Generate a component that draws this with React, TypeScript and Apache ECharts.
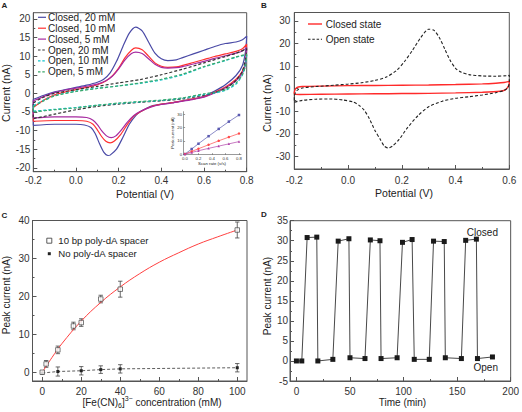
import React, { useEffect, useRef } from "react";
import * as echarts from "echarts";

const FONT = "'Liberation Sans', Arial, Helvetica, sans-serif";

// ---------- Panel A: CV loops (potential V, current nA), forward then reverse scan ----------
const closed20: number[][] = [
  [-0.2, -1.6], [-0.15, -0.5], [-0.1, 0.4], [-0.05, 1.0], [0, 1.6], [0.05, 2.2], [0.1, 3.0], [0.13, 3.8],
  [0.16, 5.5], [0.19, 8.6], [0.22, 12.6], [0.25, 16.2], [0.28, 17.8], [0.31, 16.8], [0.34, 13.8],
  [0.37, 10.8], [0.4, 9.3], [0.43, 8.8], [0.47, 9.0], [0.5, 9.6], [0.55, 10.6], [0.6, 11.6], [0.65, 12.6],
  [0.7, 13.4], [0.75, 13.8], [0.78, 14.4], [0.8, 15.4],
  [0.795, 11.5], [0.78, 7.5], [0.75, 4.8], [0.7, 2.3], [0.65, 0.6], [0.6, -0.8], [0.55, -1.5], [0.5, -2.0],
  [0.45, -2.5], [0.4, -2.9], [0.35, -3.5], [0.3, -5.0], [0.28, -6.0], [0.25, -8.3], [0.22, -11.8],
  [0.19, -15.0], [0.16, -16.6], [0.15, -16.7], [0.13, -15.8], [0.11, -13.5], [0.09, -10.8], [0.07, -9.2],
  [0.04, -8.5], [0, -8.3], [-0.1, -8.3], [-0.2, -8.6], [-0.2, -1.6],
];
const closed10: number[][] = [
  [-0.2, -3.8], [-0.15, -1.8], [-0.1, -0.4], [-0.05, 0.4], [0, 1.0], [0.05, 1.6], [0.1, 2.3], [0.14, 3.3],
  [0.17, 4.7], [0.2, 6.8], [0.23, 9.6], [0.26, 11.6], [0.28, 12.2], [0.31, 11.7], [0.34, 10.0], [0.37, 8.2],
  [0.4, 7.3], [0.43, 7.0], [0.47, 7.1], [0.5, 7.5], [0.55, 8.3], [0.6, 9.1], [0.65, 9.9], [0.7, 10.6],
  [0.75, 11.3], [0.78, 12.0], [0.8, 13.2],
  [0.795, 8.5], [0.78, 6.0], [0.75, 3.8], [0.7, 1.7], [0.65, 0.3], [0.6, -0.9], [0.55, -1.5], [0.5, -2.0],
  [0.45, -2.5], [0.4, -2.9], [0.35, -3.6], [0.3, -5.0], [0.27, -6.2], [0.24, -8.4], [0.21, -11.0],
  [0.18, -12.8], [0.16, -13.3], [0.14, -12.9], [0.12, -11.6], [0.1, -9.8], [0.08, -8.3], [0.05, -7.5],
  [0, -7.3], [-0.1, -7.3], [-0.2, -7.5], [-0.2, -3.8],
];
const closed5: number[][] = [
  [-0.2, -2.0], [-0.15, -0.8], [-0.1, 0.2], [-0.05, 0.9], [0, 1.4], [0.05, 1.9], [0.1, 2.5], [0.14, 3.4],
  [0.17, 4.6], [0.2, 6.6], [0.23, 9.0], [0.26, 10.7], [0.28, 11.1], [0.31, 10.7], [0.34, 9.3], [0.37, 7.8],
  [0.4, 7.0], [0.43, 6.8], [0.47, 6.9], [0.5, 7.2], [0.55, 7.9], [0.6, 8.6], [0.65, 9.4], [0.7, 10.1],
  [0.75, 10.8], [0.78, 11.4], [0.8, 12.3],
  [0.795, 8.0], [0.78, 5.5], [0.75, 3.4], [0.7, 1.5], [0.65, 0.1], [0.6, -1.0], [0.55, -1.6], [0.5, -2.1],
  [0.45, -2.6], [0.4, -3.0], [0.35, -3.7], [0.3, -4.9], [0.27, -6.0], [0.24, -7.8], [0.21, -10.0],
  [0.185, -11.5], [0.165, -11.9], [0.145, -11.5], [0.12, -10.0], [0.1, -8.4], [0.08, -7.2], [0.05, -6.5],
  [0, -6.3], [-0.1, -6.3], [-0.2, -6.6], [-0.2, -2.0],
];
const open20: number[][] = [
  [-0.2, -2.5], [-0.15, -1.0], [-0.1, 0.0], [0, 1.0], [0.1, 1.9], [0.2, 2.8], [0.3, 3.7], [0.4, 5.0],
  [0.5, 6.5], [0.6, 8.2], [0.7, 9.9], [0.75, 10.8], [0.8, 12.0],
  [0.795, 9.5], [0.78, 6.0], [0.75, 3.5], [0.7, 1.3], [0.65, 0.2], [0.6, -0.5], [0.5, -1.5], [0.4, -2.0],
  [0.3, -2.4], [0.2, -2.9], [0.1, -3.5], [0, -4.4], [-0.1, -5.6], [-0.2, -6.8], [-0.2, -2.5],
];
const open10: number[][] = [
  [-0.2, -3.3], [-0.15, -1.8], [-0.1, -0.6], [0, 0.6], [0.1, 1.4], [0.2, 2.0], [0.3, 2.7], [0.4, 3.6],
  [0.5, 5.0], [0.6, 7.1], [0.7, 8.8], [0.75, 9.7], [0.8, 10.3],
  [0.795, 8.0], [0.78, 5.0], [0.75, 2.5], [0.7, 0.8], [0.65, 0.1], [0.6, -0.3], [0.5, -1.3], [0.4, -1.9],
  [0.3, -2.3], [0.2, -2.7], [0.1, -3.2], [0, -3.8], [-0.1, -4.3], [-0.2, -4.8], [-0.2, -3.3],
];
const open5: number[][] = [
  [-0.2, -3.6], [-0.15, -2.0], [-0.1, -0.7], [0, 0.5], [0.1, 1.3], [0.2, 2.0], [0.3, 2.8], [0.4, 3.8],
  [0.5, 5.2], [0.6, 7.2], [0.7, 8.9], [0.75, 9.8], [0.8, 10.5],
  [0.795, 7.5], [0.78, 5.0], [0.75, 2.8], [0.7, 1.0], [0.65, 0.3], [0.6, -0.1], [0.5, -1.2], [0.4, -1.8],
  [0.3, -2.2], [0.2, -2.6], [0.1, -3.2], [0, -3.9], [-0.1, -4.4], [-0.2, -5.0], [-0.2, -3.6],
];

// Inset of panel A: peak current vs scan rate
const insetScanRate = [0, 0.1, 0.2, 0.35, 0.5, 0.65, 0.8];
const insetBlue = [0, 3.8, 7.8, 13.5, 19.0, 24.5, 29.5];
const insetRed = [0, 2.0, 4.0, 7.0, 10.0, 12.8, 15.5];
const insetPurple = [0, 1.2, 2.5, 4.3, 6.0, 7.7, 9.4];

// ---------- Panel B ----------
const closedState: number[][] = [
  [-0.2, -1.5], [-0.195, 0.0], [-0.185, 0.7], [-0.17, 0.9], [-0.1, 1.1], [0, 1.3], [0.1, 1.4], [0.2, 1.5],
  [0.3, 1.6], [0.4, 1.8], [0.5, 2.1], [0.55, 2.4], [0.58, 2.7], [0.6, 3.2],
  [0.6, 2.2], [0.595, 0.8], [0.585, -0.6], [0.565, -1.2], [0.5, -1.6], [0.4, -1.9], [0.3, -2.1],
  [0.2, -2.2], [0.1, -2.3], [0, -2.4], [-0.1, -2.5], [-0.18, -2.6], [-0.2, -2.5], [-0.2, -1.5],
];
const openState: number[][] = [
  [-0.2, -3.0], [-0.19, -0.8], [-0.17, 0.3], [-0.12, 0.9], [-0.05, 1.5], [0, 2.0], [0.05, 2.6], [0.1, 3.6],
  [0.14, 5.0], [0.18, 8.0], [0.21, 12.0], [0.24, 17.0], [0.27, 22.5], [0.3, 26.3], [0.32, 25.8],
  [0.34, 22.5], [0.36, 17.5], [0.38, 12.5], [0.4, 9.0], [0.42, 7.3], [0.45, 6.2], [0.5, 5.6], [0.55, 5.5],
  [0.59, 5.7], [0.6, 5.9],
  [0.6, 3.0], [0.595, 0.5], [0.58, -0.8], [0.55, -1.8], [0.5, -2.8], [0.45, -3.6], [0.4, -4.3], [0.35, -5.6],
  [0.3, -8.0], [0.26, -12.0], [0.22, -17.5], [0.19, -22.5], [0.165, -25.5], [0.15, -26.3], [0.135, -25.5],
  [0.12, -22.5], [0.1, -18.5], [0.08, -13.5], [0.06, -9.5], [0.04, -7.3], [0.02, -6.0], [-0.02, -5.0],
  [-0.07, -4.6], [-0.12, -4.7], [-0.17, -5.2], [-0.2, -6.0], [-0.2, -3.0],
];

// ---------- Panel C ----------
const spacerConc = [0, 2, 8, 16, 20, 30, 40, 100];
const spacerPeak = [0, 2.2, 5.9, 12.2, 13.1, 19.3, 21.9, 37.5];
const spacerErr = [0, 0.9, 1.0, 1.0, 1.0, 1.0, 2.1, 2.1];
const noSpacerConc = [0, 8, 20, 30, 40, 100];
const noSpacerPeak = [-0.2, 0.2, 0.4, 0.7, 0.9, 1.2];
const noSpacerErr = [0, 1.2, 1.1, 1.0, 1.1, 1.1];
const fitConc = [0, 5, 10, 20, 30, 40, 50, 60, 70, 80, 90, 100];
const fitPeak = [0, 3.9, 7.5, 13.5, 18.4, 22.5, 26.0, 29.0, 31.5, 33.8, 35.7, 37.5];

// ---------- Panel D ----------
const dTime = [0, 5, 10, 19, 20, 34, 39, 49, 50, 64, 69, 78, 79, 94, 99, 108, 110, 124, 128, 138, 139, 154, 158, 168, 169, 183];
const dCurrent = [0, 0, 30.8, 30.9, 0, 0.4, 29.9, 30.5, 0.8, 0.6, 30.2, 30.0, 0.6, 0.8, 29.6, 30.3, 0.4, 0.4, 29.9, 29.8, 0.8, 0.6, 30.1, 30.4, 0.6, 1.0];

// Tick labels
const aXTicks = [-0.2, 0, 0.2, 0.4, 0.6, 0.8];
const aYTicks = [-20, -15, -10, -5, 0, 5, 10, 15, 20];
const bXTicks = [-0.2, 0, 0.2, 0.4, 0.6];
const bYTicks = [-30, -20, -10, 0, 10, 20, 30];
const cXTicks = [0, 20, 40, 60, 80, 100];
const cYTicks = [0, 10, 20, 30, 40];
const dXTicks = [0, 50, 100, 150, 200];
const dYTicks = [-5, 0, 5, 10, 15, 20, 25, 30, 35];
const insetXTicks = [0, 0.2, 0.4, 0.6, 0.8];
const insetYTicks = [0, 10, 20, 30];

// Legends
const legendA = ["Closed, 20 mM", "Closed, 10 mM", "Closed, 5 mM", "Open, 20 mM", "Open, 10 mM", "Open, 5 mM"];
const legendB = ["Closed state", "Open state"];

const AX = "#555";

function mk(g: number, pos: string, min: number, max: number, major: number[], minor: number[],
  fmt: (v: number) => string, fs: number, margin: number, tickLen = 4, lw = 1) {
  const base: any = {
    type: "value", gridIndex: g, min, max, position: pos,
    splitLine: { show: false },
  };
  return [
    {
      ...base,
      axisLine: { show: true, onZero: false, lineStyle: { color: AX, width: lw } },
      axisTick: { show: true, inside: true, length: tickLen, customValues: major, lineStyle: { color: AX, width: lw } },
      axisLabel: { show: true, customValues: major, formatter: fmt, fontSize: fs, color: "#333", margin, fontFamily: FONT },
    },
    {
      ...base,
      axisLine: { show: false, onZero: false },
      axisTick: { show: minor.length > 0, inside: true, length: tickLen / 2, customValues: minor.length ? minor : undefined, lineStyle: { color: AX, width: lw } },
      axisLabel: { show: false },
    },
  ];
}

const f1 = (v: number) => v.toFixed(1);
const f0 = (v: number) => String(v);

function errRender(params: any, api: any) {
  const x = api.value(0), lo = api.value(1), hi = api.value(2);
  const a = api.coord([x, lo]);
  const b = api.coord([x, hi]);
  const w = 2.2;
  const st = { stroke: "#444", lineWidth: 0.8 };
  return {
    type: "group",
    children: [
      { type: "line", shape: { x1: a[0], y1: a[1], x2: b[0], y2: b[1] }, style: st },
      { type: "line", shape: { x1: a[0] - w, y1: a[1], x2: a[0] + w, y2: a[1] }, style: st },
      { type: "line", shape: { x1: b[0] - w, y1: b[1], x2: b[0] + w, y2: b[1] }, style: st },
    ],
  };
}

function txt(x: number, y: number, text: string, fontSize: number, opts: any = {}) {
  return {
    type: "text", x, y, rotation: opts.rotation || 0, silent: true,
    style: {
      text, fill: opts.fill || "#222", fontSize, fontFamily: FONT, fontWeight: opts.bold ? "bold" : "normal",
      textAlign: opts.align || "center", textVerticalAlign: "middle",
    },
  };
}

function legendLine(x1: number, x2: number, y: number, color: string, dashed: boolean, width: number) {
  return {
    type: "line", silent: true, shape: { x1, y1: y, x2, y2: y },
    style: { stroke: color, lineWidth: width, lineDash: dashed ? [2.5, 1.8] : null },
  };
}

const colA = ["#4a4aa6", "#ff3030", "#a62aa0", "#333333", "#14c4cc", "#3aa86a"];
const dashA = [false, false, false, true, true, true];

export default function App() {
  const ref = useRef<HTMLDivElement>(null);
  useEffect(() => {
    if (!ref.current) return;
    const chart = echarts.init(ref.current, undefined, { renderer: "svg" });

    const xAxis = [
      ...mk(0, "bottom", -0.2, 0.8, aXTicks, [-0.1, 0.1, 0.3, 0.5, 0.7], f1, 10, 4),
      ...mk(1, "bottom", -0.2, 0.6, bXTicks, [-0.1, 0.1, 0.3, 0.5], f1, 10, 6),
      ...mk(2, "bottom", -5, 105, cXTicks, [10, 30, 50, 70, 90], f0, 10, 5),
      ...mk(3, "bottom", -6, 200, dXTicks, [25, 75, 125, 175], f0, 10, 5),
      ...mk(4, "bottom", -0.02, 0.83, insetXTicks, [], f1, 4.3, 1.5, 1.5, 0.6),
    ];
    const yAxis = [
      ...mk(0, "left", -21.06, 21.68, aYTicks, [-17.5, -12.5, -7.5, -2.5, 2.5, 7.5, 12.5, 17.5], f0, 10, 3),
      ...mk(1, "left", -35.6, 33.7, bYTicks, [-25, -15, -5, 5, 15, 25], f0, 10, 4),
      ...mk(2, "left", -2.3, 40, cYTicks, [5, 15, 25, 35], f0, 10, 3),
      ...mk(3, "left", -5, 35, dYTicks, [-2.5, 2.5, 7.5, 12.5, 17.5, 22.5, 27.5, 32.5], f0, 10, 2),
      ...mk(4, "left", -0.5, 32, insetYTicks, [], f0, 4.3, 1.5, 1.5, 0.6),
    ];

    const cvData = [closed20, closed10, closed5, open20, open10, open5];
    const cvSeries = cvData.map((data, i) => ({
      type: "line", name: legendA[i], data, xAxisIndex: 0, yAxisIndex: 0, symbol: "none", smooth: 0.25,
      lineStyle: { color: colA[i], width: 1.2, type: dashA[i] ? [3, 2] : "solid" }, itemStyle: { color: colA[i] }, silent: true,
    }));
    const insetLine = (data: number[], color: string, symbol: string) => ({
      type: "line", data: insetScanRate.map((x, i) => [x, data[i]]), xAxisIndex: 8, yAxisIndex: 8,
      symbol, symbolSize: 2.5, lineStyle: { color, width: 0.7 }, itemStyle: { color }, silent: true,
    });

    const legendGraphics: any[] = [];
    legendA.forEach((name, i) => {
      const y = 17.3 + i * 10.9;
      legendGraphics.push(legendLine(38, 46, y, colA[i], dashA[i], 1.2));
      legendGraphics.push(txt(48, y, name, 10, { align: "left" }));
    });
    legendGraphics.push(legendLine(308, 322, 24, "#ff2a2a", false, 1.4));
    legendGraphics.push(txt(325.7, 24, legendB[0], 10, { align: "left" }));
    legendGraphics.push(legendLine(308, 322, 39.3, "#222", true, 1.1));
    legendGraphics.push(txt(325.7, 39.3, legendB[1], 10, { align: "left" }));

    const option: any = {
      animation: false,
      backgroundColor: "#fff",
      textStyle: { fontFamily: FONT },
      grid: [
        { left: 33.3, top: 12.7, width: 213.4, height: 159, show: true, borderColor: AX, borderWidth: 1 },
        { left: 294.3, top: 12.5, width: 215, height: 156.5, show: true, borderColor: AX, borderWidth: 1 },
        { left: 32.5, top: 220.5, width: 214.5, height: 160.5, show: true, borderColor: AX, borderWidth: 1 },
        { left: 290, top: 220.7, width: 222, height: 160.3, show: true, borderColor: AX, borderWidth: 1 },
        { left: 183.6, top: 111.7, width: 57.4, height: 43, show: false },
      ],
      xAxis,
      yAxis,
      series: [
        ...cvSeries,
        insetLine(insetBlue, "#5a5ab0", "rect"),
        insetLine(insetRed, "#ff4a4a", "circle"),
        insetLine(insetPurple, "#b040a8", "triangle"),
        {
          type: "line", name: legendB[0], data: closedState, xAxisIndex: 2, yAxisIndex: 2, symbol: "none",
          smooth: 0.25, lineStyle: { color: "#ff2a2a", width: 1.4 }, itemStyle: { color: "#ff2a2a" }, silent: true,
        },
        {
          type: "line", name: legendB[1], data: openState, xAxisIndex: 2, yAxisIndex: 2, symbol: "none",
          smooth: 0.25, lineStyle: { color: "#222", width: 1.1, type: [3, 2] }, itemStyle: { color: "#222" }, silent: true,
        },
        {
          type: "line", data: fitConc.map((x, i) => [x, fitPeak[i]]), xAxisIndex: 4, yAxisIndex: 4,
          symbol: "none", smooth: 0.4, lineStyle: { color: "#ff4040", width: 1 }, silent: true,
        },
        {
          type: "line", data: noSpacerConc.map((x, i) => [x, noSpacerPeak[i]]), xAxisIndex: 4, yAxisIndex: 4,
          symbol: "rect", symbolSize: 3, lineStyle: { color: "#333", width: 0.8, type: [3, 2] },
          itemStyle: { color: "#222" }, silent: true,
        },
        {
          type: "custom", xAxisIndex: 4, yAxisIndex: 4, renderItem: errRender, encode: { x: 0, y: [1, 2] },
          data: [
            ...spacerConc.map((x, i) => [x, spacerPeak[i] - spacerErr[i], spacerPeak[i] + spacerErr[i]]).filter((d, i) => spacerErr[i] > 0),
            ...noSpacerConc.map((x, i) => [x, noSpacerPeak[i] - noSpacerErr[i], noSpacerPeak[i] + noSpacerErr[i]]).filter((d, i) => noSpacerErr[i] > 0),
          ],
          silent: true, z: 3,
        },
        {
          type: "scatter", data: spacerConc.map((x, i) => [x, spacerPeak[i]]), xAxisIndex: 4, yAxisIndex: 4,
          symbol: "rect", symbolSize: 4.5, itemStyle: { color: "#fff", borderColor: "#333", borderWidth: 0.8 }, silent: true, z: 4,
        },
        {
          type: "line", data: dTime.map((t, i) => [t, dCurrent[i]]), xAxisIndex: 6, yAxisIndex: 6,
          symbol: "rect", symbolSize: 5, lineStyle: { color: "#333", width: 0.9 }, itemStyle: { color: "#1a1a1a" }, silent: true,
        },
      ],
      graphic: [
        ...legendGraphics,
        txt(4.5, 5, "A", 8, { bold: true }),
        txt(264, 5, "B", 8, { bold: true }),
        txt(4.5, 215.5, "C", 8, { bold: true }),
        txt(264, 214.5, "D", 8, { bold: true }),
        txt(145, 193.7, "Potential (V)", 10.5),
        txt(6, 93, "Current (nA)", 10.5, { rotation: Math.PI / 2 }),
        txt(404, 193, "Potential (V)", 10.5),
        txt(267, 103, "Current (nA)", 10.5, { rotation: Math.PI / 2 }),
        txt(6, 295, "Peak current (nA)", 10, { rotation: Math.PI / 2 }),
        txt(267, 296, "Peak current (nA)", 10, { rotation: Math.PI / 2 }),
        txt(402.5, 402, "Time (min)", 10),
        txt(498, 232.5, "Closed", 10, { align: "right" }),
        txt(498, 367.5, "Open", 10, { align: "right" }),
        txt(172, 133, "Peak current (nA)", 4, { rotation: Math.PI / 2 }),
        txt(212, 163.5, "Scan rate (v/s)", 4.3),
        {
          type: "text", x: 152, y: 402.3, silent: true,
          style: {
            text: "[Fe(CN){sub|6}]{sup|3−} concentration (mM)",
            fill: "#222", fontSize: 10, fontFamily: FONT, textAlign: "center", textVerticalAlign: "middle",
            lineHeight: 14,
            rich: {
              sub: { fontSize: 7, lineHeight: 7, verticalAlign: "bottom", fill: "#222", fontFamily: FONT },
              sup: { fontSize: 7, lineHeight: 7, verticalAlign: "top", fill: "#222", fontFamily: FONT },
            },
          },
        },
        { type: "rect", shape: { x: 46.8, y: 238.2, width: 5, height: 5 }, style: { fill: "#fff", stroke: "#333", lineWidth: 0.8 }, silent: true },
        { type: "rect", shape: { x: 47.8, y: 252.2, width: 3, height: 3 }, style: { fill: "#222" }, silent: true },
        txt(58.3, 240.7, "10 bp poly-dA spacer", 9.6, { align: "left" }),
        txt(58.3, 253.7, "No poly-dA spacer", 9.6, { align: "left" }),
      ],
    };
    chart.setOption(option);
    return () => chart.dispose();
  }, []);
  return <div ref={ref} style={{ position: "fixed", left: 0, top: 0, width: 522, height: 412, background: "#fff" }} />;
}
